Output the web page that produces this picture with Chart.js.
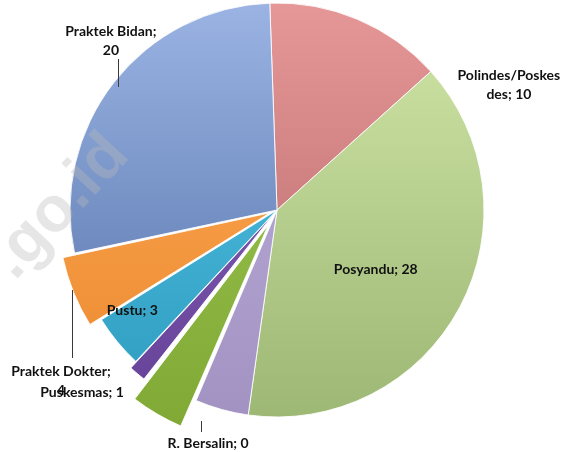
<!DOCTYPE html>
<html><head><meta charset="utf-8">
<script src="https://cdn.jsdelivr.net/npm/chart.js@4.4.1/dist/chart.umd.min.js"></script>
<style>html,body{margin:0;padding:0;background:#fff;} #wrap{width:574px;height:452px;position:relative;}</style>
</head><body><div id="wrap"><canvas id="c" width="574" height="452"></canvas></div>
<script>
// ---- data ----
const categories = ["Polindes/Poskesdes", "Posyandu", "(tanpa label A)", "R. Bersalin", "(tanpa label B)", "Puskesmas", "Pustu", "Praktek Dokter", "Praktek Bidan"];
const values = [10, 28, 3, 0, 3, 1, 3, 4, 20];
const palette = [
  ['rgb(230,152,152)', 'rgb(180,100,100)'],
  ['rgb(208,230,168)', 'rgb(157,183,116)'],
  ['rgb(190,178,220)', 'rgb(162,146,194)'],
  ['rgb(160,200,85)', 'rgb(130,170,55)'],
  ['rgb(160,200,85)', 'rgb(128,168,52)'],
  ['rgb(140,105,190)', 'rgb(100,65,150)'],
  ['rgb(90,200,235)', 'rgb(45,155,190)'],
  ['rgb(255,175,90)', 'rgb(235,135,45)'],
  ['rgb(155,180,228)', 'rgb(80,110,165)']
];
const explode = [0, 0, 0, 0, 68, 17, 0, 30, 0];

// label placement relative to the point on the arc's outer edge at its mid angle
const placement = [
  {dx: 151, dy: 65.5, split: 15},
  {dx: -84, dy: -38},
  null,
  {dx: 12, dy: 42.5, leader: [5, 20.5, 31.5]},
  null,
  {dx: -60.5, dy: 24.6},
  {dx: 15, dy: -31},
  {dx: -24, dy: 93, split: 15, leader: [-13, 2.5, 70.5]},
  {dx: -3, dy: -42, split: 14, leader: [4, -23.6, 4.4]}
];

const labelPlugin = {
  id: 'sliceLabels',
  afterDatasetsDraw(chart, args, opts) {
    const ctx = chart.ctx;
    const meta = chart.getDatasetMeta(0);
    ctx.save();
    ctx.font = opts.font;
    ctx.fillStyle = opts.color;
    ctx.textAlign = 'center';
    ctx.textBaseline = 'middle';
    ctx.strokeStyle = opts.lineColor;
    ctx.lineWidth = 1;
    meta.data.forEach((arc, i) => {
      const p = placement[i];
      if (!p) return;
      const {x, y, startAngle, endAngle, outerRadius} = arc.getProps(['x', 'y', 'startAngle', 'endAngle', 'outerRadius'], true);
      const mid = (startAngle + endAngle) / 2;
      const ax = x + Math.cos(mid) * outerRadius;
      const ay = y + Math.sin(mid) * outerRadius;
      if (p.leader) {
        const lx = Math.round(ax + p.leader[0]) + 0.5;
        ctx.beginPath();
        ctx.moveTo(lx, ay + p.leader[1]);
        ctx.lineTo(lx, ay + p.leader[2]);
        ctx.stroke();
      }
      const text = categories[i] + '; ' + values[i];
      const lines = p.split ? [text.slice(0, p.split), text.slice(p.split)] : [text];
      lines.forEach((ln, j) => {
        ctx.fillText(ln.trim(), ax + p.dx, ay + p.dy + (j - (lines.length - 1) / 2) * opts.lineHeight);
      });
    });
    ctx.restore();
  },
  afterDraw(chart) {
    const ctx = chart.ctx;
    ctx.save();
    ctx.translate(60, 207);
    ctx.rotate(-47 * Math.PI / 180);
    ctx.font = 'bold 64px "Liberation Sans", Arial, sans-serif';
    ctx.textAlign = 'center';
    ctx.textBaseline = 'middle';
    ctx.fillStyle = 'rgba(185,185,185,0.36)';
    ctx.fillText('.go.id', 0, 0);
    ctx.restore();
  }
};

new Chart(document.getElementById('c'), {
  type: 'pie',
  data: {
    labels: categories,
    datasets: [{
      data: values,
      radius: 207,
      rotation: -2,
      offset: explode,
      borderColor: 'rgba(255,255,255,0.85)',
      borderWidth: 1,
      backgroundColor: (c) => {
        const pal = palette[c.dataIndex];
        const area = c.chart.chartArea;
        if (!area) return pal[0];
        const g = c.chart.ctx.createLinearGradient(0, area.top, 0, area.bottom);
        g.addColorStop(0, pal[0]);
        g.addColorStop(1, pal[1]);
        return g;
      }
    }]
  },
  options: {
    responsive: false,
    animation: false,
    events: [],
    layout: {padding: {left: 0, right: 20, top: 0, bottom: 32}},
    plugins: {
      legend: {display: false},
      tooltip: {enabled: false},
      sliceLabels: {font: 'bold 14px Lato, "Liberation Sans", sans-serif', color: '#111111', lineColor: '#3a3a3a', lineHeight: 19}
    }
  },
  plugins: [labelPlugin]
});
</script>
</body></html>
